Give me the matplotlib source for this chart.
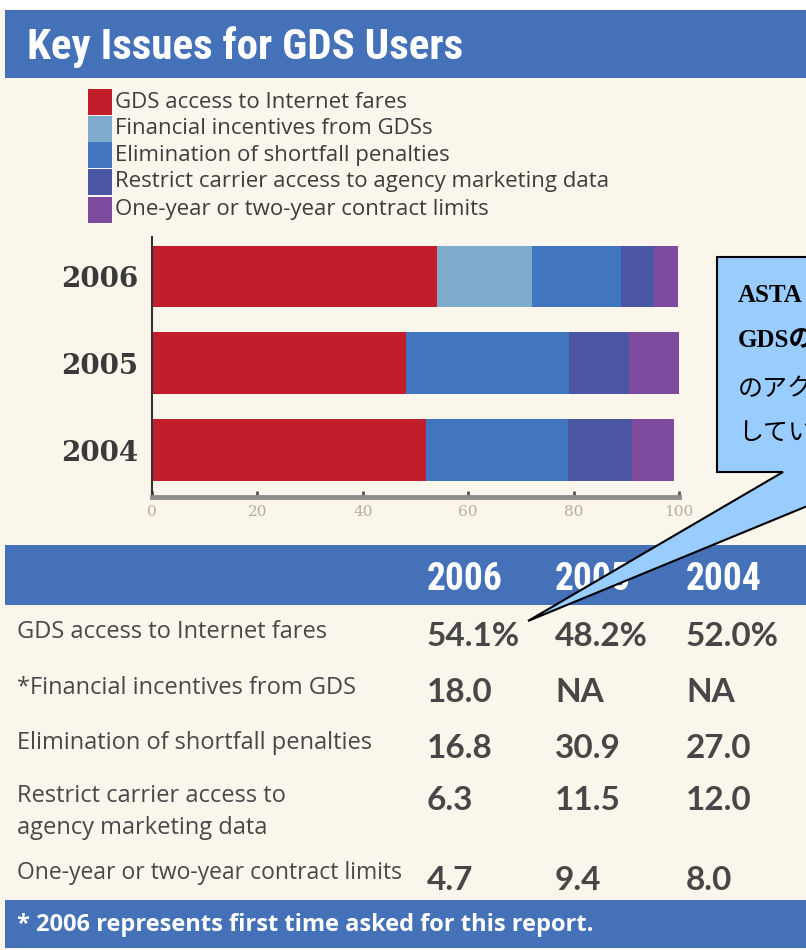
import numpy as np
import matplotlib
matplotlib.use('Agg')
import matplotlib.pyplot as plt
from matplotlib.patches import Rectangle, Polygon
from matplotlib import font_manager

# data
years = ['2006', '2005', '2004']
issues = ['GDS access to Internet fares',
          'Financial incentives from GDSs',
          'Elimination of shortfall penalties',
          'Restrict carrier access to agency marketing data',
          'One-year or two-year contract limits']
table_labels = ['GDS access to Internet fares',
                '*Financial incentives from GDS',
                'Elimination of shortfall penalties',
                'Restrict carrier access to\nagency marketing data',
                'One-year or two-year contract limits']
internet_fares = [54.1, 48.2, 52.0]
financial = [18.0, None, None]   # NA before 2006
shortfall = [16.8, 30.9, 27.0]
carrier_access = [6.3, 11.5, 12.0]
contract_limits = [4.7, 9.4, 8.0]
series = [internet_fares, financial, shortfall, carrier_access, contract_limits]
xticks = [0, 20, 40, 60, 80, 100]
footnote = '* 2006 represents first time asked for this report.'
callout_lines = ['ASTA', 'GDSの', 'のアクセス', 'している']

colors = ['#c21d2b', '#7eaacb', '#4175bd', '#4a55a3', '#7e4b9e']
BLUE = '#4471b8'
CREAM = '#fbf6ec'

names = {f.name for f in font_manager.fontManager.ttflist}
cond = 'DejaVu Sans'
for n in ['Liberation Sans Narrow', 'Roboto Condensed', 'Roboto']:
    if n in names:
        cond = n
        break

W, H = 806, 950
fig = plt.figure(figsize=(8.06, 9.5), dpi=100, facecolor=CREAM)

def fx(x):
    return x / W

def fy(y):
    return 1 - y / H

def band(y0, y1):
    fig.patches.append(Rectangle((fx(5), fy(y1)), 1 - fx(5), (y1 - y0) / H,
                                 transform=fig.transFigure, facecolor=BLUE,
                                 edgecolor='none', zorder=0))

# top white strip + title band
fig.patches.append(Rectangle((0, fy(9)), 1, 9 / H, transform=fig.transFigure,
                             facecolor='white', edgecolor='none', zorder=0))
band(10, 78)
fig.text(fx(27), fy(47), 'Key Issues for GDS Users', fontsize=31, family=cond,
         weight='bold', color='white', va='center', zorder=2)

# legend
leg_y = [102, 129, 155, 182, 210]
for lab, col, yc in zip(issues, colors, leg_y):
    fig.patches.append(Rectangle((fx(88), fy(yc + 13)), 24 / W, 26 / H,
                                 transform=fig.transFigure, facecolor=col,
                                 edgecolor='none', zorder=1))
    fig.text(fx(115), fy(yc), lab, fontsize=16, family='Open Sans',
             color='#3d3d3d', va='center', zorder=2)

# stacked bars
ax = fig.add_axes([fx(152), fy(497), (679 - 152) / W, (497 - 237) / H])
ax.set_facecolor('none')
ypos = np.array([2, 1, 0])
left = np.zeros(3)
for vals, col in zip(series, colors):
    v = np.array([0 if x is None else x for x in vals])
    ax.barh(ypos, v, left=left, height=0.71, color=col, edgecolor='none')
    left += v
ax.set_xlim(0, 100)
ax.set_ylim(-0.54, 2.455)
ax.set_yticks(ypos, years)
ax.set_xticks(xticks, [str(t) for t in xticks])
ax.tick_params(axis='y', length=0, pad=10, labelsize=20, labelcolor='#3a3a3a')
for t in ax.get_yticklabels():
    t.set_family('DejaVu Serif')
    t.set_weight('bold')
ax.tick_params(axis='x', direction='in', length=4, width=2, color='#555555',
               pad=6, labelsize=11, labelcolor='#b3ada3')
for t in ax.get_xticklabels():
    t.set_family('DejaVu Serif')
for s in ['top', 'right']:
    ax.spines[s].set_visible(False)
ax.spines['bottom'].set_color('#8d8d8d')
ax.spines['bottom'].set_linewidth(3.5)
ax.spines['left'].set_color('#333333')
ax.spines['left'].set_linewidth(1.5)

# table
band(545, 605)
col_x = [427, 555, 686]
for yr, x in zip(years, col_x):
    fig.text(fx(x), fy(579), yr, fontsize=27, family=cond, weight='bold',
             color='white', va='center', zorder=2)

label_y = [632, 688, 743, 812, 873]
label_size = [17, 17, 17, 17, 16.5]
value_y = [637, 692, 749, 801, 880]
for r, (lab, vals) in enumerate(zip(table_labels, series)):
    fig.text(fx(17), fy(label_y[r]), lab, fontsize=label_size[r],
             family='Open Sans', color='#484848', va='center',
             linespacing=1.45, zorder=2)
    for x, v in zip(col_x, vals):
        if v is None:
            s = 'NA'
        elif r == 0:
            s = f'{v:.1f}%'
        else:
            s = f'{v:.1f}'
        fig.text(fx(x), fy(value_y[r]), s, fontsize=24, family='Lato',
                 weight='bold', color='#474747', va='center', zorder=2)

band(900, 948)
fig.text(fx(17), fy(925), footnote, fontsize=17, family='Open Sans',
         weight='bold', color='white', va='center', zorder=2)

# callout overlay
pts = [(717, 257), (906, 257), (906, 472), (890, 472), (528, 621),
       (783, 472), (717, 472)]
fig.patches.append(Polygon([(fx(x), fy(y)) for x, y in pts], closed=True,
                           transform=fig.transFigure, facecolor='#99ccff',
                           edgecolor='black', linewidth=1.5, zorder=10))
call_y = [295, 341, 390, 434]
for i, (txt, yc) in enumerate(zip(callout_lines, call_y)):
    fig.text(fx(738), fy(yc), txt, fontsize=18,
             family=['Liberation Serif', 'Noto Sans CJK JP'],
             weight='bold' if i < 2 else 'normal', color='black',
             va='center', zorder=11)

fig.savefig('out.png', dpi=100, facecolor=CREAM)
